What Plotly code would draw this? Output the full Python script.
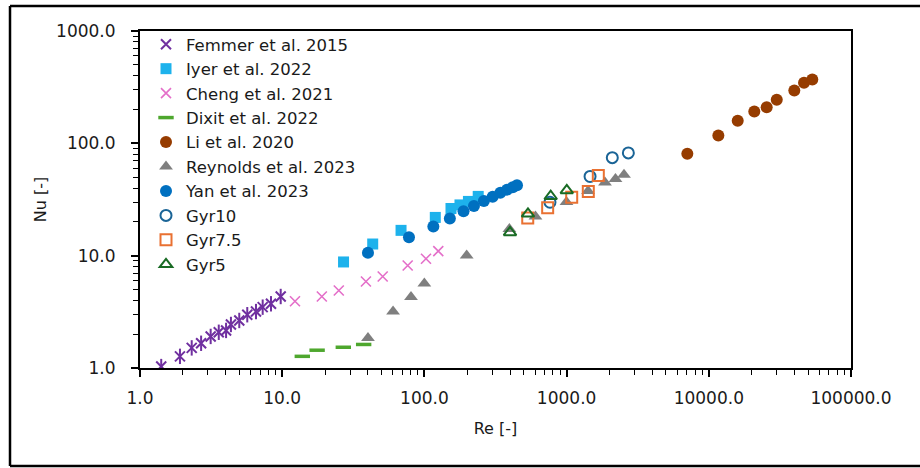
import plotly.graph_objects as go

# ---------------- data ----------------
femmer_re = [1.41, 1.91, 2.31, 2.69, 3.14, 3.58, 4.03, 4.36, 4.99, 5.68, 6.54, 7.29, 8.34, 9.76]
femmer_nu = [1.03, 1.27, 1.51, 1.66, 1.91, 2.08, 2.16, 2.44, 2.65, 2.98, 3.18, 3.48, 3.73, 4.33]

iyer_re = [27.0, 43.3, 68.5, 119.3, 153.8, 177.9, 204.0, 239.0]
iyer_nu = [8.79, 12.7, 16.8, 21.9, 26.3, 28.3, 30.4, 33.7]

cheng_re = [12.3, 19.0, 25.0, 38.8, 50.9, 76.3, 102.6, 125.2]
cheng_nu = [3.93, 4.33, 4.90, 5.89, 6.53, 8.18, 9.38, 10.97]

dixit_re = [13.85, 17.6, 26.9, 37.4]
dixit_nu = [1.27, 1.44, 1.53, 1.62]

li_re = [7063, 11670, 15970, 20890, 25530, 30050, 39940, 46730, 53450]
li_nu = [80.8, 117.6, 158.8, 192.3, 210.0, 244.5, 295.8, 346.5, 370.7]

reynolds_re = [40.1, 60.2, 80.5, 99.9, 198.3, 396, 604, 998, 1415, 1862, 2207, 2533]
reynolds_nu = [1.85, 3.19, 4.29, 5.66, 10.04, 17.3, 22.3, 30.1, 37.7, 44.9, 48.2, 52.5]

yan_re = [40.1, 77.9, 115.6, 151, 188.4, 223, 262, 302, 342, 381, 418, 448]
yan_nu = [10.6, 14.6, 18.2, 21.4, 24.8, 27.7, 30.6, 33.5, 36.4, 38.7, 40.7, 42.4]

gyr10_re = [764, 1462, 2096, 2718]
gyr10_nu = [29.9, 50.7, 74.5, 82.2]

gyr75_re = [533, 736, 1086, 1421, 1671]
gyr75_nu = [21.6, 26.7, 33.2, 37.3, 51.8]

gyr5_re = [400, 535, 773, 1003]
gyr5_nu = [16.1, 23.6, 33.8, 38.1]

x_tickvals = [1, 10, 100, 1000, 10000, 100000]
x_ticktext = ["1.0", "10.0", "100.0", "1000.0", "10000.0", "100000.0"]
y_tickvals = [1, 10, 100, 1000]
y_ticktext = ["1.0", "10.0", "100.0", "1000.0"]

FONT = "DejaVu Sans"
TXT = "#1a1a1a"

fig = go.Figure()

def add(name, x, y, symbol, size, color, lw=0, showlegend=True):
    marker = dict(symbol=symbol, size=size, color=color, line=dict(width=lw, color=color))
    fig.add_trace(go.Scatter(x=x, y=y, mode="markers", name=name, marker=marker,
                             showlegend=showlegend))

add("Femmer et al. 2015", femmer_re, femmer_nu, "x-thin-open", 10, "#7030A0", lw=2)
add("Femmer et al. 2015", femmer_re, femmer_nu, "line-ns-open", 11, "#7030A0", lw=2, showlegend=False)
add("Iyer et al. 2022", iyer_re, iyer_nu, "square", 11, "#1DB2EC")
add("Cheng et al. 2021", cheng_re, cheng_nu, "x-thin-open", 10, "#E46FC9", lw=1.6)
add("Dixit et al. 2022", dixit_re, dixit_nu, "line-ew-open", 11, "#4EA72E", lw=3.5)
add("Li et al. 2020", li_re, li_nu, "circle", 12, "#963C00")
add("Reynolds et al. 2023", reynolds_re, reynolds_nu, "triangle-up", 12, "#7F7F7F")
add("Yan et al. 2023", yan_re, yan_nu, "circle", 12, "#0070C0")
add("Gyr10", gyr10_re, gyr10_nu, "circle-open", 11, "#1A6496", lw=2)
add("Gyr7.5", gyr75_re, gyr75_nu, "square-open", 11, "#E97132", lw=2)
add("Gyr5", gyr5_re, gyr5_nu, "triangle-up-open", 11, "#196B24", lw=2)

L, R, T, B = 140, 851, 31, 368
W, H = 920, 468

def px_to_paper_x(px):
    return (px - L) / (R - L)

def px_to_paper_y(py):
    return (B - py) / (B - T)

axis_common = dict(
    type="log", showgrid=False, zeroline=False, showline=True, linecolor="#000000",
    linewidth=2, mirror=True, ticks="outside", ticklen=7, tickwidth=1.5, tickcolor="#000000",
    tickfont=dict(family=FONT, size=17, color=TXT),
    minor=dict(ticks="outside", ticklen=5, tickwidth=1.2, tickcolor="#000000", dtick="D1", showgrid=False),
)

fig.update_xaxes(**axis_common, range=[0, 5], tickvals=x_tickvals, ticktext=x_ticktext,
                 ticklabelstandoff=7,
                 title=dict(text="Re [-]", font=dict(family=FONT, size=16, color=TXT), standoff=15))
fig.update_yaxes(**axis_common, range=[0, 3], tickvals=y_tickvals, ticktext=y_ticktext,
                 ticklabelstandoff=12,
                 title=dict(text="Nu [-]", font=dict(family=FONT, size=16, color=TXT), standoff=6))

# outer picture border (open on the right, as cropped in the reference)
fig.add_shape(type="line", xref="paper", yref="paper",
              x0=px_to_paper_x(10), x1=px_to_paper_x(930), y0=px_to_paper_y(6), y1=px_to_paper_y(6),
              line=dict(color="#000000", width=2.5))
fig.add_shape(type="line", xref="paper", yref="paper",
              x0=px_to_paper_x(10), x1=px_to_paper_x(930), y0=px_to_paper_y(466), y1=px_to_paper_y(466),
              line=dict(color="#000000", width=2.5))
fig.add_shape(type="line", xref="paper", yref="paper",
              x0=px_to_paper_x(10), x1=px_to_paper_x(10), y0=px_to_paper_y(6), y1=px_to_paper_y(466),
              line=dict(color="#000000", width=2.5))

fig.update_layout(
    width=W, height=H,
    margin=dict(l=L, r=W - R, t=T, b=H - B),
    plot_bgcolor="white", paper_bgcolor="white",
    font=dict(family=FONT, size=17, color=TXT),
    legend=dict(x=px_to_paper_x(146), y=px_to_paper_y(27), xanchor="left", yanchor="top",
                bgcolor="rgba(255,255,255,0)", borderwidth=0, maxheight=420,
                font=dict(family=FONT, size=16.5, color=TXT), itemsizing="trace"),
)

fig.write_html("out.html")
